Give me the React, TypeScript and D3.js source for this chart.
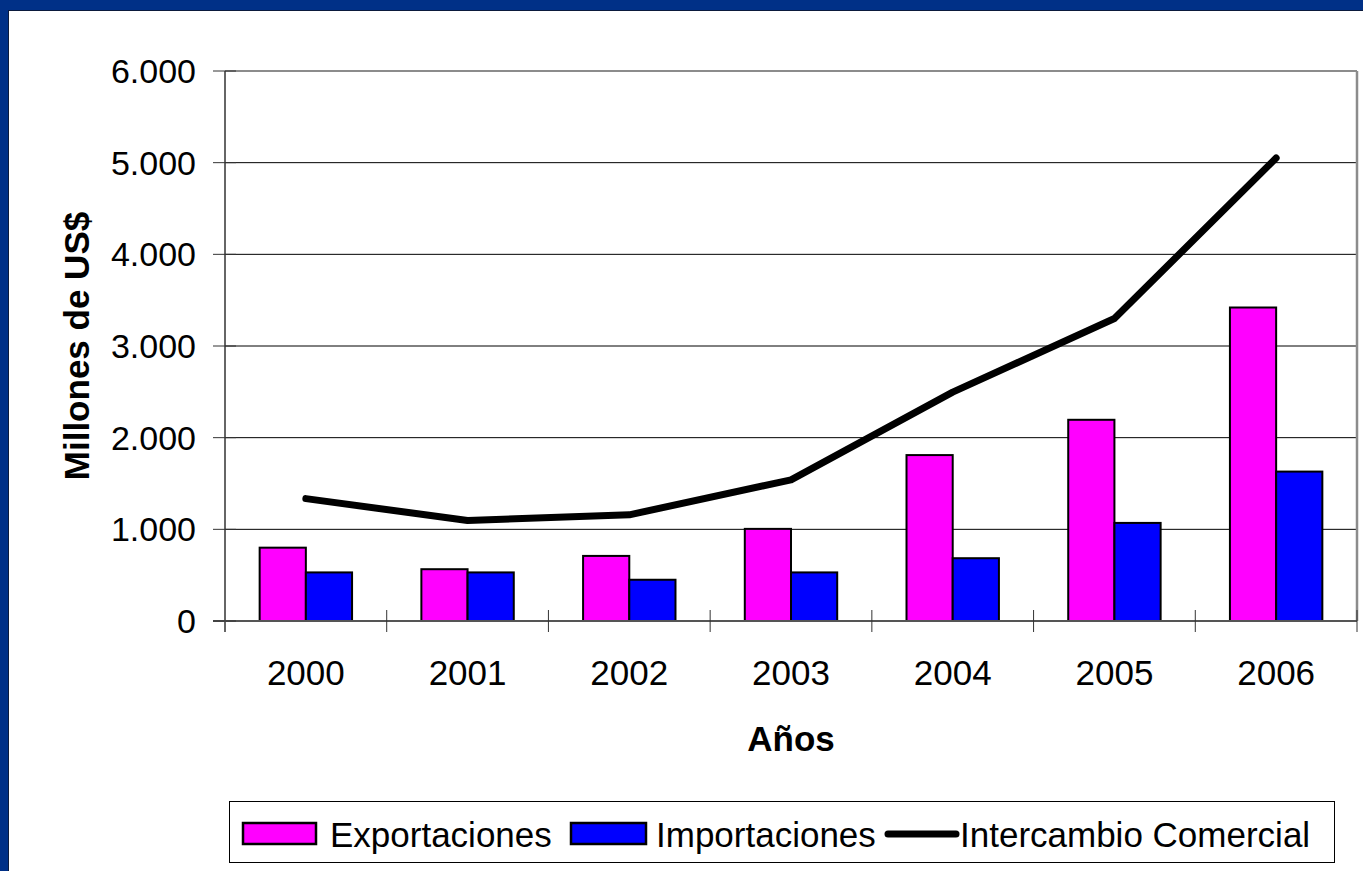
import React from 'react';
import * as d3 from 'd3';

const years = ['2000', '2001', '2002', '2003', '2004', '2005', '2006'];
const exportaciones = [800, 565, 710, 1005, 1810, 2195, 3420];
const importaciones = [530, 530, 450, 530, 685, 1070, 1630];
const intercambio = [1335, 1097, 1158, 1540, 2497, 3300, 5050];
const yTicks = [0, 1000, 2000, 3000, 4000, 5000, 6000];

const W = 1363;
const H = 871;
const left = 225;
const right = 1357;
const top = 71;
const bottom = 621;

const fmt = (v: number) => (v === 0 ? '0' : d3.format(',')(v).replace(/,/g, '.'));

const App = () => {
  const x = d3.scaleBand<string>().domain(years).range([left, right]).padding(0);
  const y = d3.scaleLinear().domain([0, 6000]).range([bottom, top]);
  const step = x.step();
  const bw = step / 3.5;
  const off = bw * 0.75;

  const line = d3
    .line<number>()
    .x((_, i) => (x(years[i]) as number) + step / 2)
    .y(d => y(d));

  const font = 'Arial, "Liberation Sans", sans-serif';

  return (
    <div style={{ position: 'absolute', left: 0, top: 0 }}>
      <svg width={W} height={H} style={{ display: 'block' }}>
        <rect x={0} y={0} width={W} height={H} fill="#003087" />
        <rect x={8.5} y={10.5} width={W} height={H} fill="#fff" stroke="#0b1a3c" strokeWidth={1} />

        {/* gridlines */}
        {yTicks.map(t => (
          <line key={'g' + t} x1={left} x2={right} y1={y(t)} y2={y(t)} stroke="#000" strokeWidth={1} />
        ))}
        {/* plot border top/right */}
        <line x1={left} x2={right} y1={top} y2={top} stroke="#8c8c8c" strokeWidth={2} />
        <line x1={right} x2={right} y1={top} y2={bottom} stroke="#8c8c8c" strokeWidth={2.5} />

        {/* bars */}
        {years.map((yr, i) => {
          const bx = (x(yr) as number) + off;
          return (
            <g key={yr}>
              <rect
                x={bx}
                y={y(exportaciones[i])}
                width={bw}
                height={bottom - y(exportaciones[i])}
                fill="#ff00ff"
                stroke="#000"
                strokeWidth={2}
              />
              <rect
                x={bx + bw}
                y={y(importaciones[i])}
                width={bw}
                height={bottom - y(importaciones[i])}
                fill="#0000ff"
                stroke="#000"
                strokeWidth={2}
              />
            </g>
          );
        })}

        {/* axes */}
        <line x1={left} x2={left} y1={top} y2={bottom + 11} stroke="#333" strokeWidth={1.5} />
        <line x1={left - 12} x2={right} y1={bottom} y2={bottom} stroke="#555" strokeWidth={2} />
        {yTicks.map(t => (
          <line key={'yt' + t} x1={left - 12} x2={left + 11} y1={y(t)} y2={y(t)} stroke="#333" strokeWidth={1} />
        ))}
        {years.map(yr => (
          <line
            key={'xt' + yr}
            x1={(x(yr) as number) + step}
            x2={(x(yr) as number) + step}
            y1={bottom - 11}
            y2={bottom + 11}
            stroke="#333"
            strokeWidth={1}
          />
        ))}

        {/* line */}
        <path
          d={line(intercambio) || ''}
          fill="none"
          stroke="#000"
          strokeWidth={7}
          strokeLinecap="round"
          strokeLinejoin="round"
        />

        {/* y tick labels */}
        {yTicks.map(t => (
          <text
            key={'yl' + t}
            x={left - 29}
            y={y(t)}
            textAnchor="end"
            dominantBaseline="central"
            fontFamily={font}
            fontSize={34}
            fill="#000"
          >
            {fmt(t)}
          </text>
        ))}
        {/* x tick labels */}
        {years.map(yr => (
          <text
            key={'xl' + yr}
            x={(x(yr) as number) + step / 2}
            y={672}
            textAnchor="middle"
            dominantBaseline="central"
            fontFamily={font}
            fontSize={35}
            fill="#000"
          >
            {yr}
          </text>
        ))}

        {/* axis titles */}
        <text
          transform={`translate(76, ${(top + bottom) / 2}) rotate(-90)`}
          textAnchor="middle"
          dominantBaseline="central"
          fontFamily={font}
          fontSize={35}
          fontWeight="bold"
        >
          Millones de US$
        </text>
        <text
          x={(left + right) / 2}
          y={738}
          textAnchor="middle"
          dominantBaseline="central"
          fontFamily={font}
          fontSize={35}
          fontWeight="bold"
        >
          Años
        </text>

        {/* legend */}
        <rect x={229.5} y={801.5} width={1105} height={61} fill="#fff" stroke="#000" strokeWidth={1} />
        <rect x={243} y={823} width={73} height={21} fill="#ff00ff" stroke="#000" strokeWidth={2.5} />
        <text x={330} y={834} dominantBaseline="central" fontFamily={font} fontSize={35}>
          Exportaciones
        </text>
        <rect x={571} y={823} width={75} height={21} fill="#0000ff" stroke="#000" strokeWidth={2.5} />
        <text x={656} y={834} dominantBaseline="central" fontFamily={font} fontSize={35}>
          Importaciones
        </text>
        <line x1={888} x2={956} y1={834} y2={834} stroke="#000" strokeWidth={7} strokeLinecap="round" />
        <text x={960} y={834} dominantBaseline="central" fontFamily={font} fontSize={35}>
          Intercambio Comercial
        </text>
      </svg>
    </div>
  );
};

export default App;
